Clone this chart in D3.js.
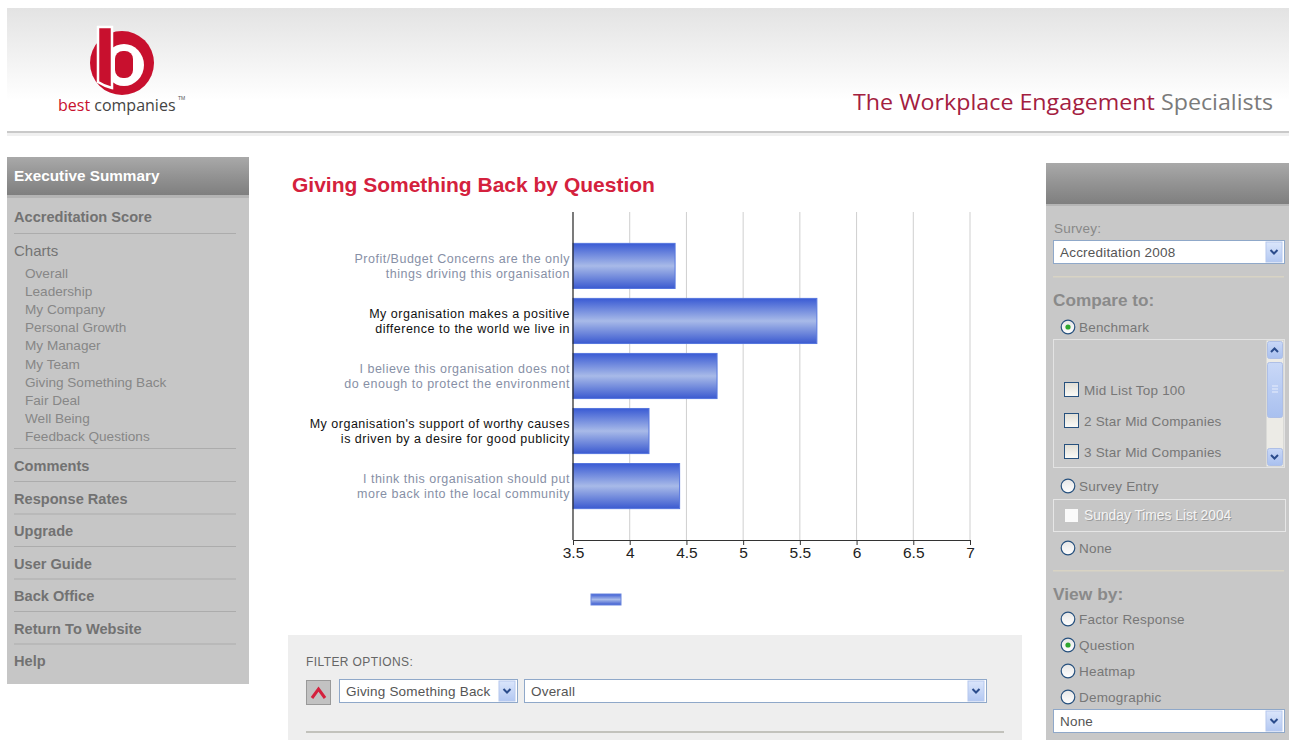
<!DOCTYPE html>
<html>
<head>
<meta charset="utf-8">
<script src="https://cdn.jsdelivr.net/npm/d3@7"></script>
<style>
  html, body { margin: 0; padding: 0; background: #fff; overflow: hidden; }
  svg { display: block; font-family: "Liberation Sans", Arial, sans-serif; }
</style>
</head>
<body>
<svg id="page" width="1289" height="740"></svg>
<script>
// ---- Chart data ----
const questions = [
  "Profit/Budget Concerns are the only\nthings driving this organisation",
  "My organisation makes a positive\ndifference to the world we live in",
  "I believe this organisation does not\ndo enough to protect the environment",
  "My organisation's support of worthy causes\nis driven by a desire for good publicity",
  "I think this organisation should put\nmore back into the local community"
];
const scores = [4.40, 5.65, 4.77, 4.17, 4.44];
const xTicks = [3.5, 4, 4.5, 5, 5.5, 6, 6.5, 7];
const chartTitle = "Giving Something Back by Question";

// ---- Navigation / panel text ----
const navTop = ["Accreditation Score"];
const chartLinks = ["Overall", "Leadership", "My Company", "Personal Growth", "My Manager",
  "My Team", "Giving Something Back", "Fair Deal", "Well Being", "Feedback Questions"];
const navBottom = ["Comments", "Response Rates", "Upgrade", "User Guide", "Back Office",
  "Return To Website", "Help"];
const benchmarkOptions = ["Mid List Top 100", "2 Star Mid Companies", "3 Star Mid Companies"];
const viewOptions = ["Factor Response", "Question", "Heatmap", "Demographic"];

const svg = d3.select("#page");
const defs = svg.append("defs");

function vGrad(id, stops) {
  const g = defs.append("linearGradient").attr("id", id)
    .attr("x1", 0).attr("y1", 0).attr("x2", 0).attr("y2", 1);
  stops.forEach(([o, c]) => g.append("stop").attr("offset", o).attr("stop-color", c));
}
vGrad("hdrGrad", [[0, "#e3e3e3"], [0.75, "#ffffff"], [1, "#ffffff"]]);
vGrad("navHead", [[0, "#a9a9a9"], [0.5, "#939393"], [1, "#7f7f7f"]]);
vGrad("barGrad", [[0, "#3a5bd4"], [0.5, "#a8bae8"], [1, "#3b5ad0"]]);
vGrad("btnGrad", [[0, "#dbe6fb"], [1, "#b3c8f2"]]);
vGrad("radioGrad", [[0, "#e6e6e6"], [1, "#ffffff"]]);
vGrad("chkGrad", [[0, "#e0ddd4"], [1, "#fbfbf8"]]);
vGrad("scrollGrad", [[0, "#c9d8f7"], [1, "#a9c0ef"]]);

// ---- Header ----
svg.append("rect").attr("x", 7).attr("y", 8).attr("width", 1282).attr("height", 123)
  .attr("fill", "url(#hdrGrad)");
svg.append("rect").attr("x", 7).attr("y", 131).attr("width", 1282).attr("height", 2).attr("fill", "#c9c9c9");
svg.append("rect").attr("x", 7).attr("y", 133).attr("width", 1282).attr("height", 3).attr("fill", "#f0f0f0");

// logo mark
const logo = svg.append("g");
logo.append("circle").attr("cx", 122).attr("cy", 63).attr("r", 32).attr("fill", "#c8102e");
logo.append("ellipse").attr("cx", 124).attr("cy", 65).attr("rx", 20).attr("ry", 21).attr("fill", "#fff");
logo.append("rect").attr("x", 115).attr("y", 51).attr("width", 18).attr("height", 27).attr("rx", 8)
  .attr("fill", "#c8102e");
logo.append("path").attr("d", "M98,27 L112,27 L112,88 Q104,86 98,82 Z")
  .attr("fill", "#c8102e").attr("stroke", "#fff").attr("stroke-width", 2.5);
const brand = svg.append("text").attr("x", 58).attr("y", 111)
  .attr("font-family", "'Open Sans', sans-serif").attr("font-size", 16);
brand.append("tspan").attr("fill", "#c8102e").text("best ");
brand.append("tspan").attr("fill", "#444").text("companies");
svg.append("text").attr("x", 178).attr("y", 100).attr("font-size", 5).attr("fill", "#555").text("TM");

const tag = svg.append("text").attr("x", 853).attr("y", 110)
  .attr("font-family", "'Open Sans', sans-serif").attr("font-size", 22)
  .attr("textLength", 420).attr("lengthAdjust", "spacingAndGlyphs");
tag.append("tspan").attr("fill", "#a3203f").text("The Workplace Engagement ");
tag.append("tspan").attr("fill", "#7b7b7b").text("Specialists");

// ---- Left navigation ----
svg.append("rect").attr("x", 7).attr("y", 157).attr("width", 242).attr("height", 527).attr("fill", "#c6c6c6");
svg.append("rect").attr("x", 7).attr("y", 157).attr("width", 242).attr("height", 38).attr("fill", "url(#navHead)");
svg.append("rect").attr("x", 7).attr("y", 195).attr("width", 242).attr("height", 3).attr("fill", "#b4b4b4");
svg.append("text").attr("x", 14).attr("y", 181).attr("font-size", 15.3).attr("font-weight", "bold")
  .attr("fill", "#fff").text("Executive Summary");

const nav = svg.append("g");
function navBold(label, cy) {
  nav.append("text").attr("x", 14).attr("y", cy + 5).attr("font-size", 14.6).attr("font-weight", "bold")
    .attr("fill", "#727272").text(label);
}
function navSep(y) {
  nav.append("rect").attr("x", 14).attr("y", y).attr("width", 222).attr("height", 1).attr("fill", "#acacac");
}
navBold(navTop[0], 217);
navSep(233);
nav.append("text").attr("x", 14).attr("y", 256).attr("font-size", 15).attr("fill", "#747474").text("Charts");
chartLinks.forEach((c, i) => {
  nav.append("text").attr("x", 25).attr("y", 277.5 + i * 18.2).attr("font-size", 13.6)
    .attr("fill", "#878787").text(c);
});
navSep(448);
navBottom.forEach((c, i) => {
  navBold(c, 466 + i * 32.5);
  if (i < navBottom.length - 1) navSep(481 + i * 32.5);
});

// ---- Chart ----
svg.append("text").attr("x", 292).attr("y", 192).attr("font-size", 21).attr("font-weight", "bold")
  .attr("fill", "#d4213d").text(chartTitle);

const plot = { left: 573, right: 970, top: 212, bottom: 540 };
const x = d3.scaleLinear().domain([3.5, 7]).range([plot.left, plot.right]);
const y = d3.scaleBand().domain(questions.map((q, i) => i)).range([plot.top, plot.bottom])
  .paddingInner(0.18).paddingOuter(0.57);

const chart = svg.append("g");
// vertical gridlines
chart.append("g").selectAll("line").data(xTicks.slice(1)).join("line")
  .attr("x1", d => x(d)).attr("x2", d => x(d))
  .attr("y1", plot.top).attr("y2", plot.bottom)
  .attr("stroke", "#cfcfcf").attr("stroke-width", 1);

// bars
chart.append("g").selectAll("rect").data(scores).join("rect")
  .attr("x", x(3.5)).attr("y", (d, i) => y(i))
  .attr("width", d => x(d) - x(3.5)).attr("height", y.bandwidth())
  .attr("fill", "url(#barGrad)").attr("stroke", "#5676de").attr("stroke-width", 1);

// category labels, two lines each
const lab = chart.append("g").selectAll("text").data(questions).join("text")
  .attr("text-anchor", "end").attr("font-size", 12.5).attr("letter-spacing", 0.5)
  .attr("fill", (d, i) => i % 2 ? "#111" : "#8790a6");
lab.each(function (d, i) {
  const lines = d.split("\n");
  const cy = y(i) + y.bandwidth() / 2;
  d3.select(this).selectAll("tspan").data(lines).join("tspan")
    .attr("x", plot.left - 3)
    .attr("y", (t, j) => cy + (j - (lines.length - 1) / 2) * 15 + 4.5)
    .text(t => t);
});

// x axis
const xAxis = d3.axisBottom(x).tickValues(xTicks).tickSize(5).tickFormat(d3.format("~g"));
const gx = chart.append("g").attr("transform", `translate(0,${plot.bottom})`).call(xAxis);
gx.select(".domain").attr("stroke", "#333");
gx.selectAll(".tick line").attr("stroke", "#333");
gx.selectAll(".tick text").attr("font-size", 15.5).attr("fill", "#222").attr("dy", "0.62em")
  .attr("font-family", "'Liberation Sans', Arial, sans-serif");
// y axis line
chart.append("line").attr("x1", plot.left).attr("x2", plot.left)
  .attr("y1", plot.top).attr("y2", plot.bottom).attr("stroke", "#222").attr("stroke-width", 1.2);

// legend swatch
svg.append("rect").attr("x", 591).attr("y", 594).attr("width", 30).attr("height", 11)
  .attr("fill", "url(#barGrad)").attr("stroke", "#6a86de");

// ---- UI widgets ----
function selectBox(g, x0, y0, w, label) {
  g.append("rect").attr("x", x0 + 0.5).attr("y", y0 + 0.5).attr("width", w).attr("height", 23)
    .attr("fill", "#fff").attr("stroke", "#8fa8c9");
  g.append("text").attr("x", x0 + 7).attr("y", y0 + 16.5).attr("font-size", 13.5)
    .attr("letter-spacing", 0.2).attr("fill", "#555").text(label);
  const bx = x0 + w - 18;
  g.append("rect").attr("x", bx).attr("y", y0 + 2).attr("width", 16).attr("height", 20)
    .attr("fill", "url(#btnGrad)").attr("stroke", "#b6c8ee");
  g.append("path").attr("d", `M${bx + 4.5},${y0 + 10} l3.5,3.5 l3.5,-3.5`)
    .attr("fill", "none").attr("stroke", "#2b4c8c").attr("stroke-width", 2);
}
function radio(g, cx, cy, checked, label) {
  g.append("circle").attr("cx", cx).attr("cy", cy).attr("r", 6.8)
    .attr("fill", "url(#radioGrad)").attr("stroke", "#27517e").attr("stroke-width", 1.2);
  if (checked) g.append("circle").attr("cx", cx).attr("cy", cy).attr("r", 2.6).attr("fill", "#2ea62e");
  g.append("text").attr("x", cx + 11).attr("y", cy + 5).attr("font-size", 13.5)
    .attr("letter-spacing", 0.2).attr("fill", "#777").text(label);
}
function checkbox(g, x0, cy, label) {
  g.append("rect").attr("x", x0 + 0.5).attr("y", cy - 7.5).attr("width", 14).attr("height", 14)
    .attr("fill", "url(#chkGrad)").attr("stroke", "#27517e");
  g.append("text").attr("x", x0 + 20).attr("y", cy + 5).attr("font-size", 13.5)
    .attr("letter-spacing", 0.2).attr("fill", "#777").text(label);
}

// ---- Filter panel ----
const filt = svg.append("g");
filt.append("rect").attr("x", 288).attr("y", 635).attr("width", 734).attr("height", 105).attr("fill", "#eeeeee");
filt.append("text").attr("x", 306).attr("y", 666).attr("font-size", 12).attr("letter-spacing", 0.4)
  .attr("fill", "#666").text("FILTER OPTIONS:");
filt.append("rect").attr("x", 306.5).attr("y", 680.5).attr("width", 24).attr("height", 24)
  .attr("fill", "#c2c2c2").attr("stroke", "#999");
filt.append("path").attr("d", "M312,698 L318.5,689 L325,698").attr("fill", "none")
  .attr("stroke", "#d4213d").attr("stroke-width", 3);
selectBox(filt, 339, 679, 178, "Giving Something Back");
selectBox(filt, 524, 679, 462, "Overall");
filt.append("rect").attr("x", 306).attr("y", 731).attr("width", 698).attr("height", 2).attr("fill", "#c2c2bc");

// ---- Right panel ----
const rp = svg.append("g");
rp.append("rect").attr("x", 1046).attr("y", 163).attr("width", 243).attr("height", 577).attr("fill", "#c8c8c8");
rp.append("rect").attr("x", 1046).attr("y", 163).attr("width", 243).attr("height", 41).attr("fill", "url(#navHead)");
rp.append("rect").attr("x", 1046).attr("y", 204).attr("width", 243).attr("height", 2).attr("fill", "#b5b5b5");
rp.append("text").attr("x", 1054).attr("y", 233).attr("font-size", 13.5).attr("letter-spacing", 0.2)
  .attr("fill", "#888").text("Survey:");
selectBox(rp, 1053, 240, 231, "Accreditation 2008");
rp.append("rect").attr("x", 1053).attr("y", 276).attr("width", 231).attr("height", 1.5).attr("fill", "#d8d3c4");
rp.append("text").attr("x", 1053).attr("y", 306).attr("font-size", 17.2).attr("font-weight", "bold")
  .attr("fill", "#8a8a8a").text("Compare to:");
radio(rp, 1068, 327, true, "Benchmark");

// benchmark list box
rp.append("rect").attr("x", 1053.5).attr("y", 339.5).attr("width", 231).attr("height", 128)
  .attr("fill", "#c9c9c9").attr("stroke", "#e3e3e3");
benchmarkOptions.forEach((b, i) => checkbox(rp, 1064, 390 + i * 31, b));
// scrollbar
rp.append("rect").attr("x", 1266.5).attr("y", 340.5).attr("width", 17).attr("height", 126).attr("fill", "#ecebe6");
rp.append("rect").attr("x", 1267.5).attr("y", 341.5).attr("width", 15).attr("height", 17).attr("rx", 2)
  .attr("fill", "url(#scrollGrad)").attr("stroke", "#aebfe6");
rp.append("path").attr("d", "M1271,352 l3.5,-3.5 l3.5,3.5").attr("fill", "none").attr("stroke", "#2b4c8c").attr("stroke-width", 2);
rp.append("rect").attr("x", 1267.5).attr("y", 362.5).attr("width", 15).attr("height", 55).attr("rx", 2)
  .attr("fill", "url(#scrollGrad)").attr("stroke", "#aebfe6");
[386, 389, 392].forEach(yy => rp.append("line").attr("x1", 1272).attr("x2", 1278).attr("y1", yy).attr("y2", yy)
  .attr("stroke", "#e8eefc"));
rp.append("rect").attr("x", 1267.5).attr("y", 448.5).attr("width", 15).attr("height", 17).attr("rx", 2)
  .attr("fill", "url(#scrollGrad)").attr("stroke", "#aebfe6");
rp.append("path").attr("d", "M1271,455 l3.5,3.5 l3.5,-3.5").attr("fill", "none").attr("stroke", "#2b4c8c").attr("stroke-width", 2);

radio(rp, 1068, 486, false, "Survey Entry");
rp.append("rect").attr("x", 1053.5).attr("y", 499.5).attr("width", 232).attr("height", 32)
  .attr("fill", "#c6c6c6").attr("stroke", "#e6e6e6");
rp.append("rect").attr("x", 1065).attr("y", 509).attr("width", 13).attr("height", 13).attr("fill", "#fafafa");
rp.append("text").attr("x", 1085).attr("y", 521).attr("font-size", 13.8).attr("fill", "#9a9a9a").text("Sunday Times List 2004");
rp.append("text").attr("x", 1084).attr("y", 520).attr("font-size", 13.8).attr("fill", "#f4f4f4").text("Sunday Times List 2004");
radio(rp, 1068, 548, false, "None");
rp.append("rect").attr("x", 1053).attr("y", 570).attr("width", 231).attr("height", 1.5).attr("fill", "#d8d3c4");
rp.append("text").attr("x", 1053).attr("y", 600).attr("font-size", 17.4).attr("font-weight", "bold")
  .attr("fill", "#8a8a8a").text("View by:");
viewOptions.forEach((v, i) => radio(rp, 1068, 619 + i * 26, v === "Question", v));
selectBox(rp, 1053, 709, 231, "None");
</script>
</body>
</html>
